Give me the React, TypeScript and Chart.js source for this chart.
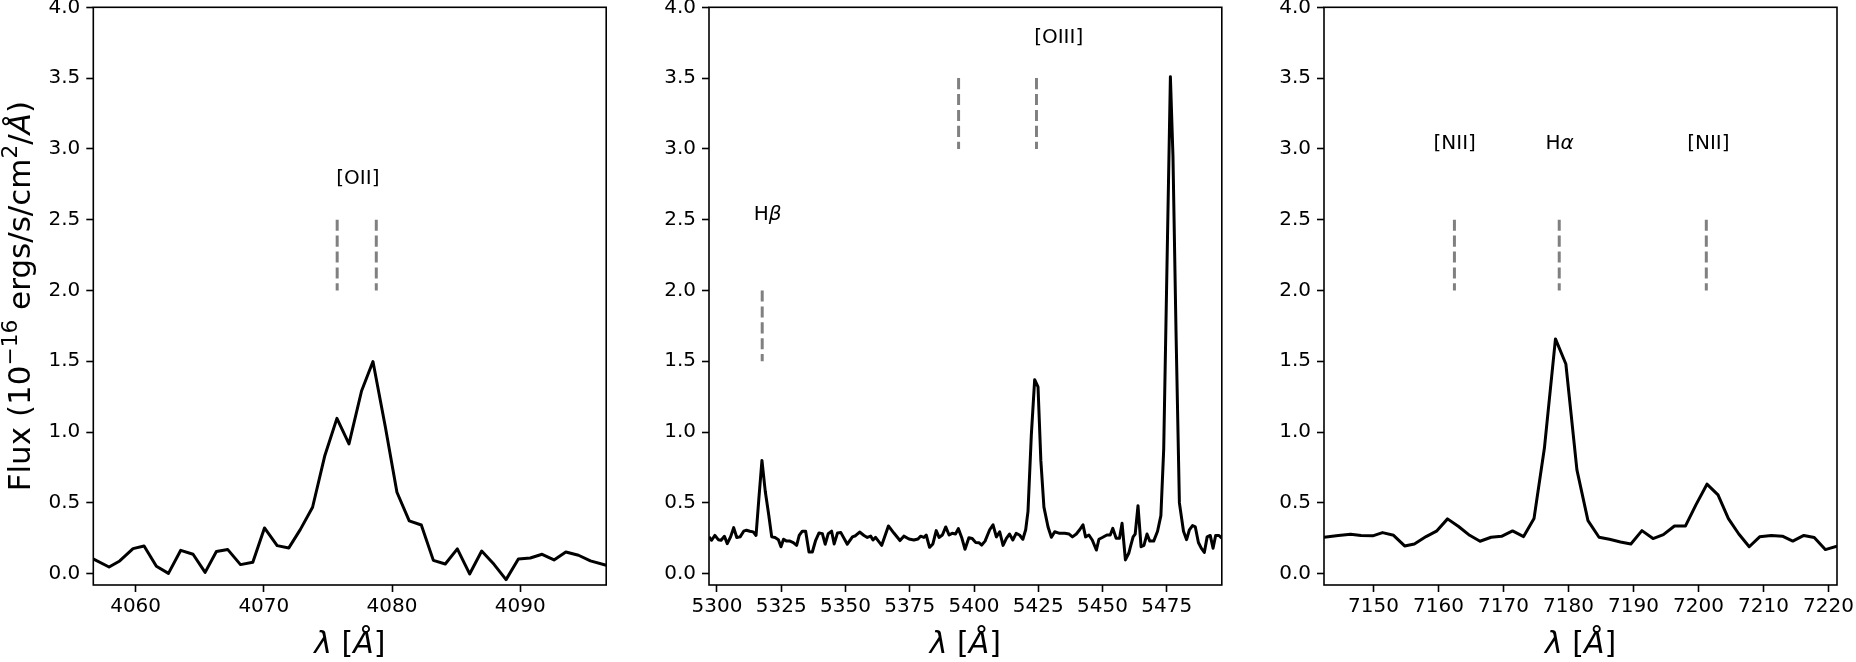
import React, { useEffect, useRef } from "react";
import { Chart, registerables } from "chart.js";

Chart.register(...registerables);

// ---------------- data ----------------
const wl1 = [
  4056.68, 4057.93, 4058.76, 4059.8, 4060.66, 4061.62, 4062.56, 4063.52, 4064.48, 4065.42,
  4066.3, 4067.19, 4068.18, 4069.14, 4070.05, 4071.04, 4071.95, 4072.84, 4073.8, 4074.76,
  4075.7, 4076.64, 4077.62, 4078.51, 4079.47, 4080.38, 4081.34, 4082.28, 4083.22, 4084.15,
  4085.09, 4086.05, 4086.99, 4087.95, 4088.89, 4089.85, 4090.78, 4091.7, 4092.63, 4093.55,
  4094.54, 4095.47, 4096.7,
];
const flux1 = [
  0.104, 0.047, 0.09, 0.177, 0.196, 0.052, 0.002, 0.165, 0.137, 0.009,
  0.156, 0.17, 0.064, 0.08, 0.323, 0.198, 0.182, 0.311, 0.469, 0.835,
  1.097, 0.917, 1.29, 1.498, 1.04, 0.575, 0.373, 0.344, 0.094, 0.068,
  0.175, -0.002, 0.16, 0.066, -0.042, 0.104, 0.111, 0.137, 0.097, 0.153,
  0.13, 0.09, 0.059,
];

const wl2 = [
  5296.9, 5297.9, 5299.2, 5300.5, 5301.6, 5302.9, 5304.0, 5305.3, 5306.5, 5307.7,
  5309.0, 5310.4, 5311.5, 5312.8, 5314.1, 5315.2, 5316.3, 5317.5, 5318.8, 5320.1,
  5321.3, 5322.6, 5323.9, 5324.9, 5325.9, 5327.1, 5328.4, 5329.7, 5331.0, 5332.0,
  5333.2, 5334.5, 5335.8, 5337.1, 5338.4, 5339.7, 5341.0, 5342.1, 5343.3, 5344.6,
  5345.6, 5346.9, 5348.2, 5350.7, 5352.7, 5353.9, 5355.5, 5357.2, 5358.5, 5359.8,
  5360.7, 5361.7, 5364.1, 5366.7, 5368.9, 5371.2, 5372.7, 5374.7, 5376.6, 5378.2,
  5379.2, 5380.5, 5381.4, 5382.7, 5384.0, 5385.3, 5386.4, 5387.7, 5389.0, 5390.3,
  5391.5, 5392.8, 5393.9, 5395.2, 5396.5, 5398.0, 5399.3, 5400.6, 5401.9, 5403.0,
  5404.3, 5406.1, 5407.4, 5408.7, 5410.0, 5411.3, 5412.6, 5413.8, 5415.1, 5416.4,
  5417.7, 5419.0, 5420.1, 5421.0, 5422.3, 5423.6, 5424.9, 5426.0, 5427.2, 5428.8,
  5430.1, 5431.4, 5433.3, 5435.3, 5437.0, 5438.3, 5439.8, 5441.1, 5442.4, 5443.4,
  5444.7, 5446.0, 5447.6, 5448.6, 5450.1, 5451.7, 5453.0, 5454.0, 5455.3, 5456.6,
  5457.6, 5458.9, 5460.2, 5461.0, 5461.9, 5462.7, 5463.8, 5465.0, 5466.1, 5467.3,
  5468.4, 5469.9, 5471.4, 5472.7, 5473.8, 5475.1, 5476.4, 5477.4, 5478.6, 5479.9,
  5481.5, 5482.7, 5483.8, 5485.0, 5486.1, 5487.3, 5488.4, 5489.6, 5490.7, 5491.9,
  5493.0, 5494.0, 5495.3, 5496.4,
];
const flux2 = [
  0.26, 0.236, 0.27, 0.24, 0.236, 0.264, 0.212, 0.26, 0.325, 0.255,
  0.26, 0.3, 0.307, 0.3, 0.295, 0.27, 0.53, 0.8, 0.58, 0.42,
  0.26, 0.255, 0.24, 0.19, 0.243, 0.23, 0.23, 0.22, 0.2, 0.27,
  0.3, 0.3, 0.153, 0.153, 0.236, 0.288, 0.283, 0.208, 0.283, 0.3,
  0.21, 0.288, 0.29, 0.208, 0.26, 0.268, 0.294, 0.27, 0.256, 0.265,
  0.238, 0.256, 0.2, 0.337, 0.285, 0.234, 0.265, 0.245, 0.238, 0.245,
  0.265, 0.256, 0.273, 0.186, 0.21, 0.304, 0.256, 0.273, 0.33, 0.273,
  0.285, 0.28, 0.318, 0.256, 0.172, 0.254, 0.249, 0.221, 0.219, 0.202,
  0.23, 0.31, 0.345, 0.26, 0.296, 0.2, 0.25, 0.28, 0.238, 0.285,
  0.273, 0.243, 0.31, 0.44, 0.98, 1.37, 1.32, 0.8, 0.47, 0.33,
  0.257, 0.296, 0.285, 0.285, 0.28, 0.26, 0.28, 0.31, 0.345, 0.26,
  0.273, 0.238, 0.167, 0.243, 0.257, 0.273, 0.273, 0.32, 0.25, 0.25,
  0.356, 0.097, 0.144, 0.2, 0.26, 0.28, 0.48, 0.19, 0.2, 0.28,
  0.23, 0.23, 0.3, 0.41, 0.88, 2.2, 3.51, 2.95, 1.7, 0.5,
  0.3, 0.24, 0.31, 0.34, 0.33, 0.22, 0.18, 0.15, 0.26, 0.27,
  0.18, 0.27, 0.27, 0.25,
];

const wl3 = [
  7142.4, 7144.6, 7146.5, 7148.1, 7149.9, 7151.4, 7153.1, 7154.8, 7156.3, 7158.1,
  7159.7, 7161.4, 7163.1, 7164.8, 7166.4, 7168.1, 7169.7, 7171.4, 7173.1, 7174.7,
  7176.3, 7178.0, 7179.6, 7181.3, 7183.0, 7184.7, 7186.3, 7188.0, 7189.6, 7191.3,
  7193.0, 7194.6, 7196.3, 7198.0, 7199.6, 7201.3, 7203.0, 7204.6, 7206.2, 7207.8,
  7209.4, 7211.2, 7212.9, 7214.5, 7216.2, 7217.8, 7219.5, 7221.3,
];
const flux3 = [
  0.257, 0.27, 0.278, 0.269, 0.267, 0.29, 0.271, 0.196, 0.21, 0.262,
  0.3, 0.387, 0.333, 0.271, 0.229, 0.257, 0.264, 0.302, 0.262, 0.389,
  0.887, 1.658, 1.481, 0.733, 0.375, 0.257, 0.243, 0.224, 0.21, 0.304,
  0.248, 0.276, 0.337, 0.337, 0.486, 0.632, 0.557, 0.389, 0.28, 0.19,
  0.26, 0.27, 0.265, 0.23, 0.27, 0.255, 0.17, 0.195,
];

const xRange1 = [4056.7, 4096.7];
const xRange2 = [5296.9, 5496.4];
const xRange3 = [7142.4, 7221.3];
const yRange = [-0.08, 4.0];

const xTicks1 = [4060, 4070, 4080, 4090];
const xTicks2 = [5300, 5325, 5350, 5375, 5400, 5425, 5450, 5475];
const xTicks3 = [7150, 7160, 7170, 7180, 7190, 7200, 7210, 7220];
const yTicks = [0.0, 0.5, 1.0, 1.5, 2.0, 2.5, 3.0, 3.5, 4.0];

// emission-line markers (dashed) and their labels
const markX1 = [4075.72, 4078.77];
const markLo1 = [2.0, 2.0];
const markHi1 = [2.5, 2.5];
const labelText1 = ["[OII]"];
const labelX1 = [4075.65];
const labelY1 = [2.75];

const markX2 = [5317.6, 5394.0, 5424.3];
const markLo2 = [1.5, 3.0, 3.0];
const markHi2 = [2.0, 3.5, 3.5];
const labelText2 = ["Hβ", "[OIII]"];
const labelX2 = [5314.3, 5423.4];
const labelY2 = [2.5, 3.75];

const markX3 = [7162.46, 7178.58, 7201.2];
const markLo3 = [2.0, 2.0, 2.0];
const markHi3 = [2.5, 2.5, 2.5];
const labelText3 = ["[NII]", "Hα", "[NII]"];
const labelX3 = [7159.25, 7176.45, 7198.25];
const labelY3 = [3.0, 3.0, 3.0];

// ---------------- layout / style ----------------
const FAMILY = '"DejaVu Sans", sans-serif';
const H = 662;
const PLOT_TOP = 7.3;
const PLOT_BOTTOM = 585;
const Y_AXIS_W = 80;
const X_AXIS_H = 40;
const TICK_FONT = 20;
const ANNOT_FONT = 20;
const XLABEL_FONT = 30;
const YLABEL_FONT = 31;

type Seg = { t: string; it?: boolean; sup?: boolean };

const yTitle: Seg[] = [
  { t: "Flux (10" },
  { t: "−16", sup: true },
  { t: " ergs/s/cm" },
  { t: "2", sup: true },
  { t: "/" },
  { t: "Å", it: true },
  { t: ")" },
];
const xTitle: Seg[] = [{ t: "λ", it: true }, { t: " [" }, { t: "Å", it: true }, { t: "]" }];

function toSegs(s: string): Seg[] {
  const out: Seg[] = [];
  for (const ch of s) {
    const it = /[α-ωΑ-Ω]/.test(ch);
    const last = out[out.length - 1];
    if (last && !!last.it === it) last.t += ch;
    else out.push({ t: ch, it });
  }
  return out;
}

function segFont(seg: Seg, size: number) {
  const s = seg.sup ? size * 0.7 : size;
  return `${seg.it ? "italic " : ""}${s}px ${FAMILY}`;
}

function drawRich(
  ctx: CanvasRenderingContext2D,
  segs: Seg[],
  x: number,
  y: number,
  size: number,
  align: "left" | "center"
) {
  ctx.save();
  ctx.textBaseline = "alphabetic";
  ctx.textAlign = "left";
  let total = 0;
  const widths = segs.map((sg) => {
    ctx.font = segFont(sg, size);
    const w = ctx.measureText(sg.t).width;
    total += w;
    return w;
  });
  let cx = align === "center" ? x - total / 2 : x;
  segs.forEach((sg, i) => {
    ctx.font = segFont(sg, size);
    ctx.fillText(sg.t, cx, sg.sup ? y - size * 0.42 : y);
    cx += widths[i];
  });
  ctx.restore();
}

type PanelCfg = {
  wl: number[];
  flux: number[];
  xRange: number[];
  xTicks: number[];
  markX: number[];
  markLo: number[];
  markHi: number[];
  labelText: string[];
  labelX: number[];
  labelY: number[];
  canvasLeft: number;
  canvasWidth: number;
  plotLeft: number;
  plotRight: number;
  yTitle: boolean;
};

const panels: PanelCfg[] = [
  {
    wl: wl1, flux: flux1, xRange: xRange1, xTicks: xTicks1,
    markX: markX1, markLo: markLo1, markHi: markHi1,
    labelText: labelText1, labelX: labelX1, labelY: labelY1,
    canvasLeft: 0, canvasWidth: 640, plotLeft: 93.3, plotRight: 606.2, yTitle: true,
  },
  {
    wl: wl2, flux: flux2, xRange: xRange2, xTicks: xTicks2,
    markX: markX2, markLo: markLo2, markHi: markHi2,
    labelText: labelText2, labelX: labelX2, labelY: labelY2,
    canvasLeft: 620, canvasWidth: 640, plotLeft: 709, plotRight: 1221.8, yTitle: false,
  },
  {
    wl: wl3, flux: flux3, xRange: xRange3, xTicks: xTicks3,
    markX: markX3, markLo: markLo3, markHi: markHi3,
    labelText: labelText3, labelX: labelX3, labelY: labelY3,
    canvasLeft: 1236, canvasWidth: 620, plotLeft: 1324, plotRight: 1837, yTitle: false,
  },
];

function Panel({ cfg }: { cfg: PanelCfg }) {
  const ref = useRef<HTMLCanvasElement>(null);
  useEffect(() => {
    const canvas = ref.current;
    if (!canvas) return;
    const padLeft = cfg.plotLeft - cfg.canvasLeft - Y_AXIS_W;
    const padRight = cfg.canvasLeft + cfg.canvasWidth - cfg.plotRight;

    const markSets = cfg.markX.map((x, i) => ({
      data: [
        { x, y: cfg.markHi[i] },
        { x, y: cfg.markLo[i] },
      ],
      borderColor: "#808080",
      borderWidth: 3,
      borderDash: [11.1, 4.8],
      borderCapStyle: "butt" as const,
      pointRadius: 0,
      fill: false,
      tension: 0,
      clip: 0,
    }));

    const specSet = {
      data: cfg.wl.map((x, i) => ({ x, y: cfg.flux[i] })),
      borderColor: "#000000",
      borderWidth: 3,
      borderJoinStyle: "round" as const,
      pointRadius: 0,
      fill: false,
      tension: 0,
      clip: 0,
    };

    const decor = {
      id: "decor",
      afterDatasetsDraw(chart: any) {
        const ctx = chart.ctx as CanvasRenderingContext2D;
        const xs = chart.scales.x;
        const ys = chart.scales.y;
        ctx.save();
        ctx.fillStyle = "#000";
        cfg.labelText.forEach((t, i) => {
          drawRich(ctx, toSegs(t), xs.getPixelForValue(cfg.labelX[i]), ys.getPixelForValue(cfg.labelY[i]), ANNOT_FONT, "left");
        });
        ctx.restore();
      },
      afterDraw(chart: any) {
        const ctx = chart.ctx as CanvasRenderingContext2D;
        const a = chart.chartArea;
        ctx.save();
        ctx.strokeStyle = "#000";
        ctx.lineWidth = 1.6;
        ctx.strokeRect(a.left, a.top, a.right - a.left, a.bottom - a.top);
        ctx.fillStyle = "#000";
        drawRich(ctx, xTitle, (a.left + a.right) / 2, 653, XLABEL_FONT, "center");
        if (cfg.yTitle) {
          ctx.translate(30 - cfg.canvasLeft, (a.top + a.bottom) / 2);
          ctx.rotate(-Math.PI / 2);
          drawRich(ctx, yTitle, 0, 0, YLABEL_FONT, "center");
        }
        ctx.restore();
      },
    };

    const chart = new Chart(canvas, {
      type: "line",
      data: { datasets: [...markSets, specSet] as any },
      options: {
        responsive: false,
        maintainAspectRatio: false,
        animation: false,
        devicePixelRatio: 1,
        events: [],
        layout: {
          padding: { left: padLeft, right: padRight, top: PLOT_TOP, bottom: H - PLOT_BOTTOM - X_AXIS_H },
        },
        plugins: { legend: { display: false }, tooltip: { enabled: false } },
        scales: {
          x: {
            type: "linear",
            min: cfg.xRange[0],
            max: cfg.xRange[1],
            afterBuildTicks: (s: any) => {
              s.ticks = cfg.xTicks.map((v) => ({ value: v }));
            },
            afterFit: (s: any) => {
              s.height = X_AXIS_H;
              s.paddingLeft = 0;
              s.paddingRight = 0;
            },
            ticks: {
              color: "#000",
              font: { family: FAMILY, size: TICK_FONT },
              padding: 3,
              maxRotation: 0,
              autoSkip: false,
              callback: (v: any) => String(v),
            },
            grid: {
              display: true,
              drawOnChartArea: false,
              drawTicks: true,
              tickLength: 7,
              tickWidth: 1.6,
              tickColor: "#000",
            },
            border: { display: false },
          },
          y: {
            type: "linear",
            min: yRange[0],
            max: yRange[1],
            afterBuildTicks: (s: any) => {
              s.ticks = yTicks.map((v) => ({ value: v }));
            },
            afterFit: (s: any) => {
              s.width = Y_AXIS_W;
              s.paddingTop = 0;
              s.paddingBottom = 0;
            },
            ticks: {
              color: "#000",
              font: { family: FAMILY, size: TICK_FONT },
              padding: 6,
              autoSkip: false,
              callback: (v: any) => Number(v).toFixed(1),
            },
            grid: {
              display: true,
              drawOnChartArea: false,
              drawTicks: true,
              tickLength: 7,
              tickWidth: 1.6,
              tickColor: "#000",
            },
            border: { display: false },
          },
        },
      },
      plugins: [decor],
    });
    return () => chart.destroy();
  }, [cfg]);

  return (
    <canvas
      ref={ref}
      width={cfg.canvasWidth}
      height={H}
      style={{
        position: "absolute",
        left: cfg.canvasLeft,
        top: 0,
        width: cfg.canvasWidth,
        height: H,
        display: "block",
      }}
    />
  );
}

export default function App() {
  return (
    <div
      style={{
        position: "absolute",
        left: 0,
        top: 0,
        width: 1856,
        height: H,
        overflow: "hidden",
        background: "#ffffff",
      }}
    >
      {panels.map((p, i) => (
        <Panel key={i} cfg={p} />
      ))}
    </div>
  );
}
